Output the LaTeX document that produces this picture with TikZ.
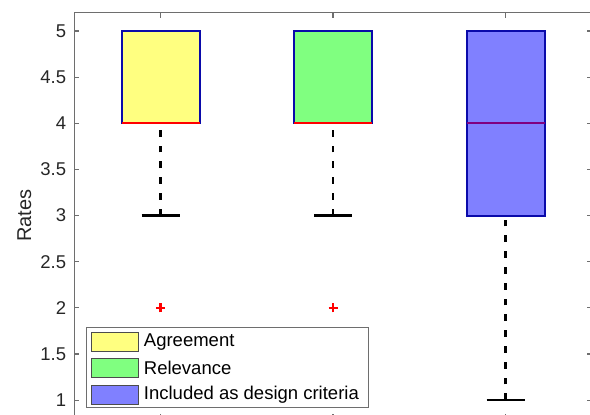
\documentclass[tikz,border=0pt]{standalone}
\usepackage{fontspec}
\setmainfont{Liberation Sans}
\usetikzlibrary{positioning,calc}
\definecolor{boxyellow}{RGB}{255,255,128}
\definecolor{boxgreen}{RGB}{128,255,128}
\definecolor{boxblue}{RGB}{128,128,255}
\definecolor{edgeblue}{RGB}{10,10,170}
\definecolor{medpurple}{RGB}{128,0,128}
\definecolor{axisgray}{RGB}{110,110,110}
\tikzset{
  bp box/.style={draw=edgeblue, line width=2pt},
  bp median/.style={line width=2pt},
  bp whisker/.style={black, line width=2.3pt, dash pattern=on 6.7pt off 9.1pt},
  bp cap/.style={black, line width=2.3pt},
  bp outlier/.style={red, line width=2.2pt},
  bp axis/.style={draw=axisgray, line width=1.1pt},
  tick label/.style={font=\fontsize{18.5}{22}\selectfont, text=black!85, inner sep=0pt},
  legend swatch/.style={draw=black!70, line width=1pt, minimum width=47pt, minimum height=19pt, inner sep=0pt},
  legend text/.style={font=\fontsize{18.5}{22}\selectfont, anchor=west, inner sep=0pt}
}

\begin{document}
\begin{tikzpicture}[x=172.5pt, y=92.3pt, shift={(-12pt,-77.5pt)}]
    \useasboundingbox ({12/172.5},{77.5/92.3}) rectangle ({602/172.5},{492.5/92.3});

    % Axes
    \draw [bp axis] (0.5,0.8) -- (0.5,5.2) -- (3.5,5.2) -- (3.5,0.8) -- cycle;
    \foreach \v in {1,1.5,...,5} {
        \draw [bp axis] (0.5,\v) -- ++(5pt,0);
        \draw [bp axis] (3.5,\v) -- ++(-5pt,0);
        \node [tick label, anchor=east] at ($(0.5,\v)+(-8pt,0)$) {\v};
    }
    \foreach \u in {1,2,3} {
        \draw [bp axis] (\u,5.2) -- ++(0,-5pt);
        \draw [bp axis] (\u,0.8) -- ++(0,5pt);
    }
    \node [tick label, font=\fontsize{20}{24}\selectfont, rotate=90] (ylab) at ($(0.5,3)+(-50pt,0)$) {Rates};

    % Whiskers and caps
    \draw [bp whisker] (1,3) -- (1,4);
    \draw [bp whisker] (2,3) -- (2,4);
    \draw [bp whisker] (3,1) -- (3,3);
    \draw [bp cap] ($(1,3)+(-19pt,0)$) -- ++(38pt,0);
    \draw [bp cap] ($(2,3)+(-19pt,0)$) -- ++(38pt,0);
    \draw [bp cap] ($(3,1)+(-19pt,0)$) -- ++(38pt,0);

    % Boxes
    \draw [bp box, fill=boxyellow] ($(1,4)+(-39pt,0)$) rectangle ($(1,5)+(39pt,0)$);
    \draw [bp box, fill=boxgreen] ($(2,4)+(-39pt,0)$) rectangle ($(2,5)+(39pt,0)$);
    \draw [bp box, fill=boxblue] ($(3,3)+(-39pt,0)$) rectangle ($(3,5)+(39pt,0)$);

    % Medians
    \draw [bp median, red] ($(1,4)+(-39pt,0)$) -- ++(78pt,0);
    \draw [bp median, red] ($(2,4)+(-39pt,0)$) -- ++(78pt,0);
    \draw [bp median, medpurple] ($(3,4)+(-39pt,0)$) -- ++(78pt,0);

    % Outliers
    \foreach \u in {1,2} {
        \draw [bp outlier] ($(\u,2)+(-4.5pt,0)$) -- ++(9pt,0);
        \draw [bp outlier] ($(\u,2)+(0,-4.5pt)$) -- ++(0,9pt);
    }

    % Legend
    \draw [draw=axisgray, line width=1.1pt, fill=white] ($(0.5,0.8)+(12pt,11.5pt)$) rectangle ++(282pt,80pt);
    \node [legend swatch, fill=boxyellow] (swAgr) at ($(0.5,0.8)+(40.5pt,77pt)$) {};
    \node [legend swatch, fill=boxgreen, below=6.5pt of swAgr] (swRel) {};
    \node [legend swatch, fill=boxblue, below=6.5pt of swRel] (swInc) {};
    \node [legend text, right=5pt of swAgr] (lbAgr) {Agreement};
    \node [legend text, right=5pt of swRel] (lbRel) {Relevance};
    \node [legend text, right=5pt of swInc] (lbInc) {Included as design criteria};
\end{tikzpicture}
\end{document}
